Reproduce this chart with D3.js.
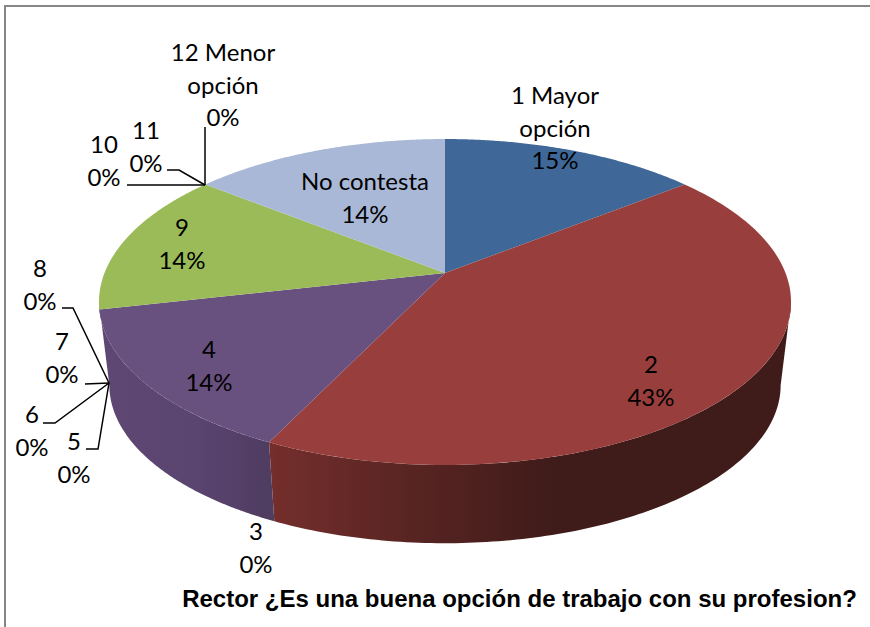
<!DOCTYPE html>
<html><head><meta charset="utf-8">
<script src="https://cdn.jsdelivr.net/npm/d3@7/dist/d3.min.js"></script>
<style>html,body{margin:0;padding:0;background:#fff}svg{display:block}</style>
</head><body><svg id="c" width="870" height="627"></svg>
<script>
const categories=["1 Mayor opción","2","3","4","5","6","7","8","9","10","11","12 Menor opción","No contesta"];
const counts=[1,3,0,1,0,0,0,0,1,0,0,0,1];
const percentLabels=["15%","43%","0%","14%","0%","0%","0%","0%","14%","0%","0%","0%","14%"];
const topColors=["#3F6797","#983F3D","#983F3D","#69517F","#69517F","#69517F","#69517F","#69517F","#9BBB59","#9BBB59","#9BBB59","#9BBB59","#A9B8D7"];
const labelLines=[["1 Mayor","opción"],["2"],["3"],["4"],["5"],["6"],["7"],["8"],["9"],["10"],["11"],["12 Menor","opción"],["No contesta"]];
const labelAnchors=[[555,104],[651,373],[256,540],[209,358],[74,450],[32,423],[62,350],[40,277],[182,236],[104,153],[146,139],[223,61],[365,190]];
const leaders=[[[62,308],[73,308],[109,383]],[[85,384],[109,383]],[[43,423],[55,423],[109,383]],[[86,449],[98,449],[109,383]],[[127,185],[205,185]],[[167,170],[179,170],[205,185]],[[205,127],[205,185]]];
const title="Rector ¿Es una buena opción de trabajo con su profesion?";

const svg=d3.select("#c");
const FONT="Lato, Carlito, Calibri, sans-serif";
const cx=445,topY=273,botY=357,k=0.178,R=340.5,S=157.8,wallScale=0.97;
const rim=(a,cy,s)=>{const u=Math.sin(a),v=-Math.cos(a),d=1-k*v;return [cx+s*R*u/d,cy+s*S*v/d];};
const topRim=a=>rim(a,topY,1),botRim=a=>rim(a,botY,wallScale);
const arcPts=(a0,a1,f)=>d3.range(0,121).map(i=>f(a0+(a1-a0)*i/120));
const line=d3.line();

const defs=svg.append("defs");
const grad=(id,x1,x2,stops)=>{const g=defs.append("linearGradient").attr("id",id).attr("gradientUnits","userSpaceOnUse").attr("x1",x1).attr("x2",x2).attr("y1",0).attr("y2",0);
 stops.forEach(s=>g.append("stop").attr("offset",s[0]).attr("stop-color",s[1]));};
grad("wall2",272,790,[[0,"#742E2C"],[0.25,"#5A2523"],[0.55,"#3F1B19"],[1,"#3F1B19"]]);
grad("wall4",100,275,[[0,"#5E4873"],[0.55,"#5A4470"],[1,"#4F3C60"]]);

// frame
svg.append("path").attr("d","M5,627V6H870").attr("fill","none").attr("stroke","#868686").attr("stroke-width",2);

const pie=d3.pie().sort(null).value(d=>d)(counts);
const wallLo=Math.PI-Math.asin(Math.sqrt(1-k*k)),wallHi=2*Math.PI-wallLo;
// side walls
[[1,"url(#wall2)"],[3,"url(#wall4)"]].forEach(([i,fill])=>{
 const a0=Math.max(pie[i].startAngle,wallLo),a1=i===3?wallHi:Math.min(pie[i].endAngle,wallHi);
 svg.append("path").attr("fill",fill).attr("d",line(arcPts(a0,a1,topRim).concat(arcPts(a0,a1,botRim).reverse()))+"Z");
});
// top faces
svg.selectAll("path.top").data(pie.filter(d=>d.value>0)).join("path").attr("class","top")
 .attr("fill",d=>topColors[d.index])
 .attr("d",d=>line([[cx,topY]].concat(arcPts(d.startAngle,d.endAngle,topRim)))+"Z");
// leaders
svg.selectAll("path.lead").data(leaders).join("path").attr("class","lead").attr("fill","none").attr("stroke","#000").attr("stroke-width",1.5).attr("d",d=>line(d));
// labels
const LH=32.6;
categories.forEach((c,i)=>{
 const lines=labelLines[i].concat([percentLabels[i]]);
 const t=svg.append("text").attr("font-family",FONT).attr("font-size",24).attr("fill","#000").attr("text-anchor","middle");
 lines.forEach((s,j)=>t.append("tspan").attr("x",labelAnchors[i][0]).attr("y",labelAnchors[i][1]+j*LH).text(s));
});
svg.append("text").attr("x",519.5).attr("y",607).attr("text-anchor","middle").attr("font-family","'Liberation Sans',Arial,sans-serif").attr("font-weight","bold").attr("font-size",24).attr("fill","#000").text(title);
</script></body></html>
